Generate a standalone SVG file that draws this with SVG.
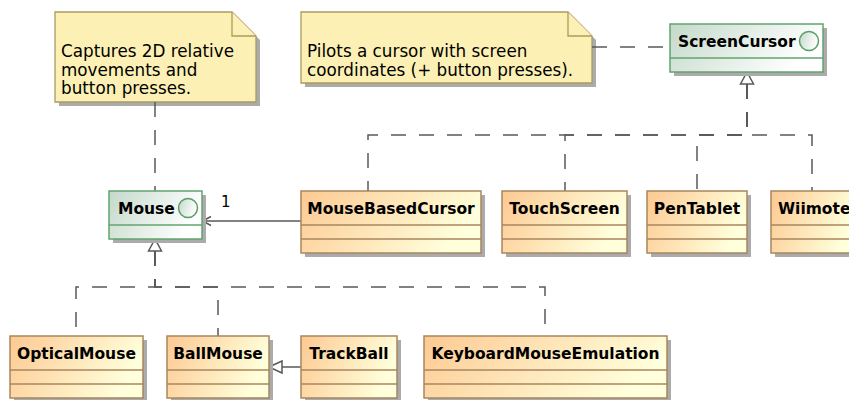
<svg xmlns="http://www.w3.org/2000/svg" width="849" height="400" viewBox="0 0 849 400">
<style>
.bg{fill:#FFFFFF}
.sh{fill:#ABABAB}
.cls{fill:url(#gc);stroke:#A8865E;stroke-width:1.5}
.csep{stroke:#A8865E;stroke-width:1.5}
.ifc{fill:url(#gi);stroke:#62A46F;stroke-width:1.5}
.isep{stroke:#62A46F;stroke-width:1.5}
.circ{fill:url(#gi);stroke:#5A9E67;stroke-width:1.5}
.name{font-family:"DejaVu Sans",sans-serif;font-weight:bold;font-size:15.5px;fill:#000000}
.note{fill:#FCF0B5;stroke:#AA9B60;stroke-width:1.3}
.ntext{font-family:"DejaVu Sans",sans-serif;font-size:16.8px;fill:#000000}
.lbl{font-family:"DejaVu Sans",sans-serif;font-size:15px;fill:#000000}
.dash{stroke:#595959;stroke-width:1.5;fill:none;stroke-dasharray:15,13}
.solid{stroke:#595959;stroke-width:1.5;fill:none}
.tri{fill:#FFFFFF;stroke:#595959;stroke-width:1.5}
</style>
<defs>
<linearGradient id="gc" x1="0" y1="0" x2="1" y2="0.3">
<stop offset="0" stop-color="#FDC992"/>
<stop offset="1" stop-color="#FFFFDB"/>
</linearGradient>
<linearGradient id="gi" x1="0" y1="0" x2="1" y2="0.3">
<stop offset="0" stop-color="#C4D9CA"/>
<stop offset="1" stop-color="#FFFFFF"/>
</linearGradient>
</defs>
<rect class="bg" x="0" y="0" width="849" height="400"/>

<g id="note-mouse">
<path class="sh" d="M59,16 H236 L260,40 V106 H59 Z"/>
<path class="note" d="M55,12 H232 L256,36 V102 H55 Z"/>
<path class="note" d="M232,12 V36 H256"/>
<text class="ntext" x="61" y="57">Captures 2D relative</text>
<text class="ntext" x="61" y="75.7">movements and</text>
<text class="ntext" x="61" y="94.4">button presses.</text>
</g>

<g id="note-screencursor">
<path class="sh" d="M305,16 H572 L596,40 V87 H305 Z"/>
<path class="note" d="M301,12 H568 L592,36 V83 H301 Z"/>
<path class="note" d="M568,12 V36 H592"/>
<text class="ntext" x="307" y="57">Pilots a cursor with screen</text>
<text class="ntext" x="307" y="75.7">coordinates (+ button presses).</text>
</g>

<g id="connectors">
<path class="dash" d="M155,102 V191"/>
<path class="dash" d="M592,47 H670"/>
<path class="dash" d="M155,251 V287 H76 V336"/>
<path class="dash" d="M155,251 V287 H218 V336"/>
<path class="dash" d="M155,251 V287 H545 V336"/>
<polygon class="tri" points="155,239 148.5,251 161.5,251"/>
<path class="dash" d="M747,84 V135 H368 V191"/>
<path class="dash" d="M747,84 V135 H565 V191"/>
<path class="dash" d="M747,84 V135 H697 V191"/>
<path class="dash" d="M747,84 V135 H812 V191"/>
<polygon class="tri" points="747,72 740.5,84 753.5,84"/>
<path class="solid" d="M301,221 H203"/>
<polyline class="solid" points="211,216.5 202.5,221 211,225.5"/>
<text class="lbl" x="221" y="207">1</text>
<path class="solid" d="M301,367 H282"/>
<polygon class="tri" points="269,367 282,361 282,373"/>
</g>

<g id="ScreenCursor">
<rect class="sh" x="674" y="28" width="153" height="48"/>
<rect class="ifc" x="670" y="24" width="153" height="48"/>
<line class="isep" x1="670" y1="58" x2="823" y2="58"/>
<text class="name" x="678" y="46.5">ScreenCursor</text>
<circle class="circ" cx="809" cy="41" r="9.5"/>
</g>

<g id="Mouse">
<rect class="sh" x="113" y="195" width="93" height="48"/>
<rect class="ifc" x="109" y="191" width="93" height="48"/>
<line class="isep" x1="109" y1="225" x2="202" y2="225"/>
<text class="name" x="118" y="213.5">Mouse</text>
<circle class="circ" cx="188" cy="208" r="9.5"/>
</g>

<g id="MouseBasedCursor">
<rect class="sh" x="305" y="195" width="180" height="62"/>
<rect class="cls" x="301" y="191" width="180" height="62"/>
<line class="csep" x1="301" y1="225" x2="481" y2="225"/>
<line class="csep" x1="301" y1="239" x2="481" y2="239"/>
<text class="name" x="391" y="213.5" text-anchor="middle">MouseBasedCursor</text>
</g>

<g id="TouchScreen">
<rect class="sh" x="506" y="195" width="125" height="62"/>
<rect class="cls" x="502" y="191" width="125" height="62"/>
<line class="csep" x1="502" y1="225" x2="627" y2="225"/>
<line class="csep" x1="502" y1="239" x2="627" y2="239"/>
<text class="name" x="564.5" y="213.5" text-anchor="middle">TouchScreen</text>
</g>

<g id="PenTablet">
<rect class="sh" x="651" y="195" width="100" height="62"/>
<rect class="cls" x="647" y="191" width="100" height="62"/>
<line class="csep" x1="647" y1="225" x2="747" y2="225"/>
<line class="csep" x1="647" y1="239" x2="747" y2="239"/>
<text class="name" x="697" y="213.5" text-anchor="middle">PenTablet</text>
</g>

<g id="Wiimote">
<rect class="sh" x="775" y="195" width="85" height="62"/>
<rect class="cls" x="771" y="191" width="85" height="62"/>
<line class="csep" x1="771" y1="225" x2="856" y2="225"/>
<line class="csep" x1="771" y1="239" x2="856" y2="239"/>
<text class="name" x="778" y="213.5">Wiimote</text>
</g>

<g id="OpticalMouse">
<rect class="sh" x="14" y="340" width="133" height="62"/>
<rect class="cls" x="10" y="336" width="133" height="62"/>
<line class="csep" x1="10" y1="370" x2="143" y2="370"/>
<line class="csep" x1="10" y1="384" x2="143" y2="384"/>
<text class="name" x="76.5" y="358.5" text-anchor="middle">OpticalMouse</text>
</g>

<g id="BallMouse">
<rect class="sh" x="171" y="340" width="102" height="62"/>
<rect class="cls" x="167" y="336" width="102" height="62"/>
<line class="csep" x1="167" y1="370" x2="269" y2="370"/>
<line class="csep" x1="167" y1="384" x2="269" y2="384"/>
<text class="name" x="218" y="358.5" text-anchor="middle">BallMouse</text>
</g>

<g id="TrackBall">
<rect class="sh" x="305" y="340" width="96" height="62"/>
<rect class="cls" x="301" y="336" width="96" height="62"/>
<line class="csep" x1="301" y1="370" x2="397" y2="370"/>
<line class="csep" x1="301" y1="384" x2="397" y2="384"/>
<text class="name" x="349" y="358.5" text-anchor="middle">TrackBall</text>
</g>

<g id="KeyboardMouseEmulation">
<rect class="sh" x="428" y="340" width="243" height="62"/>
<rect class="cls" x="424" y="336" width="243" height="62"/>
<line class="csep" x1="424" y1="370" x2="667" y2="370"/>
<line class="csep" x1="424" y1="384" x2="667" y2="384"/>
<text class="name" x="545.5" y="358.5" text-anchor="middle">KeyboardMouseEmulation</text>
</g>
</svg>
